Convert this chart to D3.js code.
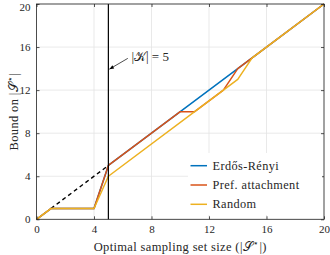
<!DOCTYPE html>
<html>
<head>
<meta charset="utf-8">
<script src="https://cdn.jsdelivr.net/npm/d3@7"></script>
<style>
  body { margin: 0; background: #fff; }
  text { font-family: "Liberation Serif", serif; fill: #262626; }
</style>
</head>
<body>
<svg id="chart" width="330" height="255"></svg>
<script>
// data
const ticks = [0, 4, 8, 12, 16, 20];

const erX = [0, 1, 4, 5, 10, 14, 15, 20];
const erY = [0, 1, 1, 5, 10, 14, 15, 20];

const prefX = [0, 1, 4, 5, 10, 11, 13, 14, 15, 20];
const prefY = [0, 1, 1, 5, 10, 10, 12, 14, 15, 20];

const randX = [0, 1, 4, 5, 13, 14, 15, 20];
const randY = [0, 1, 1, 4, 12, 13, 15, 20];

const boundX = [1, 5];
const boundY = [1, 5];

const kValue = 5;

const seriesNames = ["Erdős-Rényi", "Pref. attachment", "Random"];
const seriesColors = ["#0072BD", "#D95319", "#EDB120"];

const margin = {left: 36.5, right: 6, top: 4, bottom: 35.7};
const W = 330, H = 255;

const svg = d3.select("#chart");
const x = d3.scaleLinear().domain([0, 20]).range([margin.left, W - margin.right]);
const y = d3.scaleLinear().domain([0, 20]).range([H - margin.bottom, margin.top]);

// grid
const grid = svg.append("g").attr("stroke", "#e3e3e3").attr("stroke-width", 0.8);
ticks.forEach(t => {
  grid.append("line").attr("x1", x(t)).attr("x2", x(t)).attr("y1", y(0)).attr("y2", y(20));
  grid.append("line").attr("x1", x(0)).attr("x2", x(20)).attr("y1", y(t)).attr("y2", y(t));
});

const zip = (xs, ys) => xs.map((v, i) => [v, ys[i]]);
const line = d3.line().x(d => x(d[0])).y(d => y(d[1]));

// dashed bound
svg.append("path").datum(zip(boundX, boundY))
  .attr("d", line).attr("fill", "none")
  .attr("stroke", "#000").attr("stroke-width", 1.4)
  .attr("stroke-dasharray", "4,3.2");

const series = [zip(erX, erY), zip(prefX, prefY), zip(randX, randY)];
series.forEach((s, i) => {
  svg.append("path").datum(s)
    .attr("d", line).attr("fill", "none")
    .attr("stroke", seriesColors[i]).attr("stroke-width", 1.5)
    .attr("stroke-linejoin", "round");
});

// |K| = 5 line
svg.append("line")
  .attr("x1", x(kValue)).attr("x2", x(kValue))
  .attr("y1", y(0)).attr("y2", y(20))
  .attr("stroke", "#000").attr("stroke-width", 1.2);

// annotation arrow
const ax1 = x(6.35), ay1 = y(14.95), ax2 = x(5.07), ay2 = y(13.95);
svg.append("line")
  .attr("x1", ax1).attr("y1", ay1).attr("x2", ax2).attr("y2", ay2)
  .attr("stroke", "#000").attr("stroke-width", 0.7);
const ang = Math.atan2(ay2 - ay1, ax2 - ax1);
const hl = 4.5, hw = 1.8;
const bx = ax2 - hl * Math.cos(ang), by = ay2 - hl * Math.sin(ang);
svg.append("path")
  .attr("d", `M${ax2},${ay2} L${bx - hw * Math.sin(ang)},${by + hw * Math.cos(ang)} L${bx + hw * Math.sin(ang)},${by - hw * Math.cos(ang)} Z`)
  .attr("fill", "#000");

const ann = svg.append("text")
  .attr("x", x(6.6)).attr("y", y(15.1) + 4.5)
  .attr("font-size", 13);
ann.append("tspan").text("|");
ann.append("tspan").text("𝒦");
ann.append("tspan").text("| = 5");

// axes box
const axisColor = "#262626";
svg.append("rect")
  .attr("x", x(0)).attr("y", y(20))
  .attr("width", x(20) - x(0)).attr("height", y(0) - y(20))
  .attr("fill", "none").attr("stroke", axisColor).attr("stroke-width", 0.8);

const xAxis = d3.axisBottom(x).tickValues(ticks).tickSizeInner(-3).tickSizeOuter(0).tickPadding(6);
const yAxis = d3.axisLeft(y).tickValues(ticks).tickSizeInner(-3).tickSizeOuter(0).tickPadding(6);

svg.append("g").attr("transform", `translate(0,${y(0)})`).call(xAxis);
const gy = svg.append("g").attr("transform", `translate(${x(0)},0)`).call(yAxis);
// mirrored ticks on top/right
svg.append("g").attr("transform", `translate(0,${y(20)})`)
  .call(d3.axisTop(x).tickValues(ticks).tickSizeInner(-3).tickSizeOuter(0).tickFormat(""));
svg.append("g").attr("transform", `translate(${x(20)},0)`)
  .call(d3.axisRight(y).tickValues(ticks).tickSizeInner(-3).tickSizeOuter(0).tickFormat(""));

svg.selectAll(".domain").remove();
svg.selectAll(".tick line").attr("stroke", axisColor).attr("stroke-width", 0.8);
svg.selectAll(".tick text")
  .style("font-family", "'Liberation Serif', serif")
  .attr("font-size", 11).attr("fill", "#262626");
// keep the top label inside the page
gy.selectAll(".tick text").filter(d => d === 20).attr("dy", "0.55em");

// axis labels
const xl = svg.append("text")
  .attr("x", (x(0) + x(20)) / 2).attr("y", 250.5)
  .attr("text-anchor", "middle").attr("font-size", 12.5)
  .attr("letter-spacing", 0.35);
xl.append("tspan").text("Optimal sampling set size (|");
xl.append("tspan").text("𝒮");
xl.append("tspan").attr("font-size", 9).attr("dy", -4.5).text("⋆");
xl.append("tspan").attr("dy", 4.5).text("|)");

const yl = svg.append("text")
  .attr("transform", `translate(17.5,${(y(0) + y(20)) / 2}) rotate(-90)`)
  .attr("text-anchor", "middle").attr("font-size", 12.5)
  .attr("letter-spacing", 0.35);
yl.append("tspan").text("Bound on |");
yl.append("tspan").text("𝒮");
yl.append("tspan").attr("font-size", 9).attr("dy", -4.5).text("⋆");
yl.append("tspan").attr("dy", 4.5).text("|");

// legend
const leg = svg.append("g");
leg.append("rect")
  .attr("x", 188).attr("y", 153).attr("width", 134).attr("height", 62)
  .attr("fill", "#fff");
seriesNames.forEach((name, i) => {
  const ly = 165.7 + i * 19.3;
  leg.append("line")
    .attr("x1", 190.5).attr("x2", 207).attr("y1", ly).attr("y2", ly)
    .attr("stroke", seriesColors[i]).attr("stroke-width", 1.5);
  leg.append("text")
    .attr("x", 212.5).attr("y", ly + 4)
    .attr("font-size", 12.3).attr("letter-spacing", 0.4).text(name);
});
</script>
</body>
</html>
